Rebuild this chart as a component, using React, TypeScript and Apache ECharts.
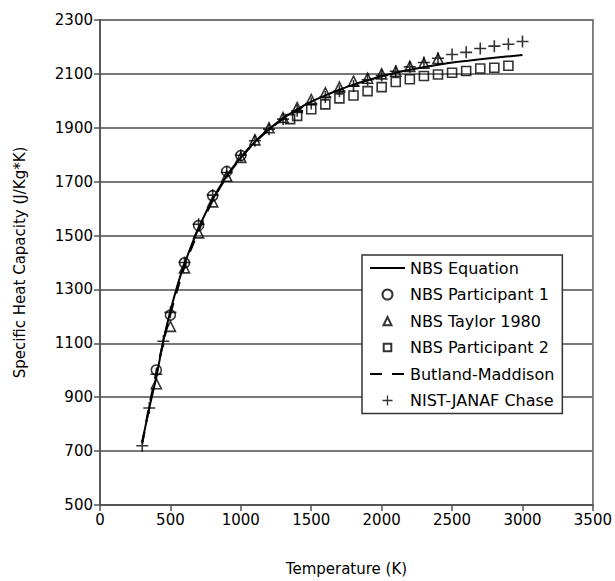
import React, { useEffect, useRef } from "react";
import * as echarts from "echarts";

const xTicks = { min: 0, max: 3500, interval: 500 };
const yTicks = { min: 500, max: 2300, interval: 200 };

const eqT = [300, 350, 400, 450, 500, 550, 600, 700, 800, 900, 1000, 1100, 1200, 1300, 1400, 1500, 1600, 1700, 1800, 1900, 2000, 2200, 2400, 2600, 2800, 3000];
const eqCp = [735, 860, 975, 1110, 1220, 1315, 1395, 1528, 1635, 1722, 1790, 1848, 1895, 1935, 1968, 1997, 2020, 2041, 2060, 2076, 2091, 2115, 2134, 2148, 2160, 2170];

const p1T = [400, 500, 600, 700, 800, 900, 1000];
const p1Cp = [1001, 1205, 1399, 1537, 1648, 1738, 1797];

const taylorT = [400, 500, 600, 700, 800, 900, 1000, 1100, 1200, 1300, 1400, 1500, 1600, 1700, 1800, 1900, 2000, 2100, 2200, 2300, 2400];
const taylorCp = [950, 1163, 1380, 1510, 1625, 1720, 1790, 1855, 1900, 1938, 1975, 2005, 2030, 2051, 2073, 2084, 2100, 2110, 2128, 2140, 2157];

const p2T = [1350, 1400, 1500, 1600, 1700, 1800, 1900, 2000, 2100, 2200, 2300, 2400, 2500, 2600, 2700, 2800, 2900];
const p2Cp = [1932, 1944, 1969, 1987, 2009, 2020, 2036, 2051, 2070, 2080, 2092, 2098, 2104, 2111, 2120, 2123, 2130];

const bmT = [300, 350, 400, 450, 500, 600, 700, 800, 900, 1000, 1100, 1200, 1300, 1400, 1500];
const bmCp = [728, 868, 990, 1105, 1210, 1385, 1518, 1630, 1718, 1788, 1846, 1893, 1933, 1966, 1995];

const nistT = [300, 350, 400, 450, 500, 600, 700, 800, 900, 1000, 1100, 1200, 1300, 1400, 1500, 1600, 1700, 1800, 1900, 2000, 2100, 2200, 2300, 2400, 2500, 2600, 2700, 2800, 2900, 3000];
const nistCp = [720, 860, 985, 1108, 1215, 1400, 1542, 1650, 1734, 1798, 1852, 1895, 1932, 1963, 1990, 2014, 2036, 2055, 2078, 2094, 2110, 2126, 2142, 2158, 2172, 2180, 2194, 2203, 2210, 2220];

const names = ["NBS Equation", "NBS Participant 1", "NBS Taylor 1980", "NBS Participant 2", "Butland-Maddison", "NIST-JANAF Chase"];

const zip = (xs: number[], ys: number[]) => xs.map((x, i) => [x, ys[i]]);

const FONT = "DejaVu Sans";
const PLUS = "path://M0,5.2h12v1.6H0z M5.2,0h1.6v12h-1.6z";
const TRI_ICON = "path://M0,0M10,10M1,9.2L5,1L9,9.2Z";
const RECT_ICON = "path://M0,0M10,10M1.2,1.2h7.6v7.6H1.2z";
const CIRC_ICON = "circle";

export default function App() {
  const ref = useRef<HTMLDivElement>(null);
  useEffect(() => {
    if (!ref.current) return;
    const chart = echarts.init(ref.current, undefined, { renderer: "svg" });
    const hollow = { color: "rgba(0,0,0,0)", borderColor: "#000", borderWidth: 1.6 };
    const noSymbol = { color: "rgba(0,0,0,0)", borderColor: "rgba(0,0,0,0)", borderWidth: 0 };
    chart.setOption({
      animation: false,
      backgroundColor: "#fff",
      grid: {
        left: 100,
        right: 21,
        top: 20,
        bottom: 73,
        containLabel: false,
        show: true,
        borderColor: "#777",
        borderWidth: 1.8,
      },
      xAxis: {
        type: "value",
        min: xTicks.min,
        max: xTicks.max,
        interval: xTicks.interval,
        name: "Temperature (K)",
        nameLocation: "middle",
        nameGap: 56,
        nameTextStyle: { fontFamily: FONT, fontSize: 15, color: "#000" },
        axisLine: { show: true, lineStyle: { color: "#555", width: 1.8 } },
        axisTick: { show: true, length: 6, lineStyle: { color: "#555", width: 1.5 } },
        axisLabel: { fontFamily: FONT, fontSize: 15, color: "#000", margin: 7, formatter: (v: number) => String(v) },
        splitLine: { show: false },
      },
      yAxis: {
        type: "value",
        min: yTicks.min,
        max: yTicks.max,
        interval: yTicks.interval,
        name: "Specific Heat Capacity (J/Kg*K)",
        nameLocation: "middle",
        nameGap: 73,
        nameTextStyle: { fontFamily: FONT, fontSize: 15, color: "#000" },
        axisLine: { show: true, lineStyle: { color: "#555", width: 1.8 } },
        axisTick: { show: true, length: 6, lineStyle: { color: "#555", width: 1.5 } },
        axisLabel: { fontFamily: FONT, fontSize: 15, color: "#000", margin: 7, formatter: (v: number) => String(v) },
        splitLine: { show: true, lineStyle: { color: "#777", width: 1.8 } },
      },
      legend: {
        orient: "vertical",
        left: 362,
        top: 255,
        padding: [5, 8, 5, 7],
        itemGap: 10.5,
        itemWidth: 35,
        itemHeight: 10,
        backgroundColor: "#fff",
        borderColor: "#333",
        borderWidth: 1.5,
        borderRadius: 0,
        textStyle: { fontFamily: FONT, fontSize: 16, color: "#000" },
        data: [
          { name: names[0], itemStyle: noSymbol },
          { name: names[1], icon: CIRC_ICON },
          { name: names[2], icon: TRI_ICON },
          { name: names[3], icon: RECT_ICON },
          { name: names[4], itemStyle: noSymbol },
          { name: names[5], icon: PLUS },
        ],
      },
      series: [
        {
          name: names[0],
          type: "line",
          data: zip(eqT, eqCp),
          smooth: 0.3,
          symbol: "none",
          showSymbol: false,
          lineStyle: { color: "#000", width: 2 },
          itemStyle: { color: "#000" },
          z: 3,
        },
        {
          name: names[4],
          type: "line",
          data: zip(bmT, bmCp),
          smooth: 0.3,
          symbol: "none",
          showSymbol: false,
          lineStyle: { color: "#000", width: 2.2, type: [12, 10] },
          itemStyle: { color: "#000" },
          z: 3,
        },
        {
          name: names[1],
          type: "scatter",
          data: zip(p1T, p1Cp),
          symbol: "circle",
          symbolSize: 10,
          itemStyle: hollow,
          z: 4,
        },
        {
          name: names[2],
          type: "scatter",
          data: zip(taylorT, taylorCp),
          symbol: "triangle",
          symbolSize: 10,
          itemStyle: hollow,
          z: 4,
        },
        {
          name: names[3],
          type: "scatter",
          data: zip(p2T, p2Cp),
          symbol: "rect",
          symbolSize: 9,
          itemStyle: hollow,
          z: 4,
        },
        {
          name: names[5],
          type: "scatter",
          data: zip(nistT, nistCp),
          symbol: PLUS,
          symbolSize: 12,
          symbolKeepAspect: true,
          itemStyle: { color: "#000" },
          z: 5,
        },
      ],
    });
    return () => chart.dispose();
  }, []);
  return (
    <div
      ref={ref}
      style={{ position: "fixed", left: 0, top: 0, width: 615, height: 581, background: "#fff" }}
    />
  );
}
